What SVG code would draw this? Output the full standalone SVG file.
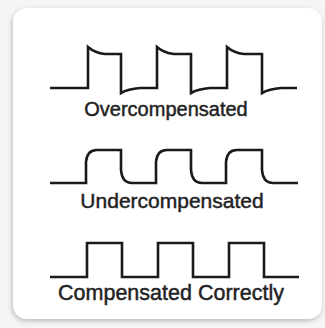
<svg xmlns="http://www.w3.org/2000/svg" width="325" height="328" viewBox="0 0 325 328">
  <defs>
    <filter id="sh" x="-10%" y="-10%" width="120%" height="120%">
      <feGaussianBlur in="SourceAlpha" stdDeviation="2.5"/>
      <feOffset dx="-1.5" dy="2" result="b"/>
      <feComponentTransfer><feFuncA type="linear" slope="0.25"/></feComponentTransfer>
      <feMerge><feMergeNode/><feMergeNode in="SourceGraphic"/></feMerge>
    </filter>
  </defs>
  <style>
    .wave { fill: none; stroke: #1a1a1a; stroke-width: 2.6; stroke-linejoin: miter; stroke-linecap: butt; }
    .lbl { font-family: "Liberation Sans", Arial, sans-serif; fill: #222; stroke: #222; stroke-width: 0.45; text-anchor: middle; }
  </style>
  <rect width="325" height="328" fill="#f5f5f5"/>
  <rect x="13" y="8" width="309" height="311" rx="14" fill="#ffffff" filter="url(#sh)"/>
  <g id="overcompensated">
    <path class="wave" d="M50,88 H88 V47 Q95,53 105,54 H121 V93 Q128,89 140,88 H157 V47 Q164,53 174,54 H191 V93 Q198,89 210,88 H227 V47 Q234,53 244,54 H262 V93 Q269,89 281,88 H297"/>
    <text class="lbl" x="166" y="116" font-size="20">Overcompensated</text>
  </g>
  <g id="undercompensated">
    <path class="wave" d="M50,183 H86 V162 Q87,150 97,150 H121 V170 Q122,183 132,183 H156 V162 Q157,150 167,150 H191 V170 Q192,183 202,183 H226 V162 Q227,150 237,150 H262 V170 Q263,183 273,183 H298"/>
    <text class="lbl" x="172" y="208" font-size="21">Undercompensated</text>
  </g>
  <g id="correct">
    <path class="wave" d="M50,277 H87 V243 H122 V277 H158 V243 H193 V277 H229 V243 H264 V277 H299"/>
    <text class="lbl" x="171" y="300" font-size="21.5">Compensated Correctly</text>
  </g>
</svg>
